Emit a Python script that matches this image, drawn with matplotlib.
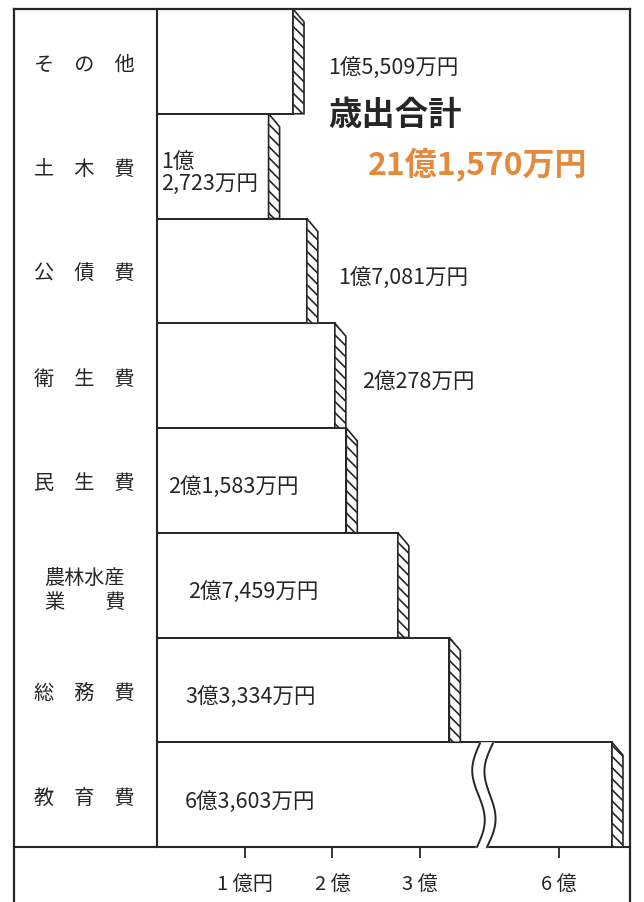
import matplotlib
matplotlib.use("Agg")
import numpy as np
import matplotlib.pyplot as plt
from matplotlib.patches import Polygon
from matplotlib.lines import Line2D

plt.rcParams['font.family'] = ['Noto Sans CJK JP', 'DejaVu Sans']
plt.rcParams['hatch.linewidth'] = 1.2

# 歳出 (単位: 万円)
categories = ['そ　の　他', '土　木　費', '公　債　費', '衛　生　費',
              '民　生　費', '農林水産\n業　　費', '総　務　費', '教　育　費']
values = [15509, 12723, 17081, 20278, 21583, 27459, 33334, 63603]
left_ticks = [1, 2, 3]
left_ticklabels = ['1 億円', '2 億', '3 億']
right_ticks = [6]
right_ticklabels = ['6 億']

# label placement: 'out' after the bar, 'in' from the left edge (px offsets)
label_side = ['out', 'in', 'out', 'out', 'in', 'in', 'in', 'in']
label_dx = [24, 4, 20, 16, 11, 31, 28, 28]

W, H = 644, 903
INK = '#262626'
ORANGE = '#e58a3c'


def fx(x):
    return x / W


def fy(y):
    return 1 - y / H


def fmt(v, two_lines=False):
    oku, man = divmod(v, 10000)
    sep = '\n' if two_lines else ''
    return f'{oku}億{sep}{man:,}万円'


fig = plt.figure(figsize=(W / 100, H / 100), dpi=100)
fig.patch.set_facecolor('white')

top, base = 10, 848
xl0, xbrk, xr1 = 157, 484, 630
ppu_left = 87.7
# right segment scale (hand drawn, stretched)
ppu_right = 147.0
right_lo = 6 - (559 - xbrk) / ppu_right

axL = fig.add_axes([fx(xl0), fy(base), fx(xbrk - xl0), (base - top) / H])
axR = fig.add_axes([fx(xbrk), fy(base), fx(xr1 - xbrk), (base - top) / H])
axL.set_xlim(0, (xbrk - xl0) / ppu_left)
axR.set_xlim(right_lo, right_lo + (xr1 - xbrk) / ppu_right)

vals = [v / 10000 for v in values]
ypos = list(range(len(values)))
row_px = (base - top) / len(values)

for ax, ppu in ((axL, ppu_left), (axR, ppu_right)):
    ax.set_ylim(len(values) - 0.5, -0.5)
    ax.barh(ypos, vals, height=1.0, color='white', edgecolor=INK, lw=1.4, zorder=2)
    w = 11 / ppu
    s = 13 / row_px
    for i, v in enumerate(vals):
        side = Polygon([(v, i - 0.5), (v + w, i - 0.5 + s), (v + w, i + 0.5), (v, i + 0.5)],
                       closed=True, facecolor='white', edgecolor=INK, lw=1.2,
                       hatch='\\\\\\', zorder=3)
        ax.add_patch(side)
    for sp in ('top', 'right'):
        ax.spines[sp].set_visible(False)
    ax.spines['bottom'].set_linewidth(1.5)
    ax.spines['bottom'].set_color(INK)
    ax.tick_params(axis='x', direction='out', length=8, width=1.3, color=INK,
                   labelsize=14.5, labelcolor=INK, pad=11)
    ax.patch.set_alpha(0)

axL.spines['left'].set_linewidth(1.5)
axL.spines['left'].set_color(INK)
axR.spines['left'].set_visible(False)

axL.set_xticks(left_ticks, left_ticklabels)
axR.set_xticks(right_ticks, right_ticklabels)
axR.set_yticks([])

axL.set_yticks(ypos, categories)
axL.tick_params(axis='y', length=0, pad=52, labelsize=14.5, labelcolor=INK)
for lab in axL.get_yticklabels():
    lab.set_ha('center')
    lab.set_multialignment('center')

# value labels
for i, v in enumerate(values):
    text = fmt(v, two_lines=(label_side[i] == 'in' and v < 15000))
    if label_side[i] == 'out':
        x0 = vals[i] + 11 / ppu_left
    else:
        x0 = 0
    axL.annotate(text, (x0, i), xytext=(label_dx[i] * 0.72, -6 * 0.72),
                 textcoords='offset points', ha='left', va='center',
                 fontsize=15.5, color=INK, linespacing=0.95, zorder=5,
                 annotation_clip=False)

# 歳出合計
fig.text(fx(328), fy(115), '歳出合計', fontsize=24, fontweight='bold',
         color=INK, ha='left', va='center')
fig.text(fx(368), fy(165), fmt(sum(values)), fontsize=23, fontweight='bold',
         color=ORANGE, ha='left', va='center')

# wavy break on the 教育費 bar
yb0 = top + row_px * (len(values) - 1)
t = np.linspace(0, 1, 40)
cy = yb0 + 1 + t * (base - yb0 - 1)
cx = 480 - 7 * np.sin(2 * np.pi * t) - 3 * t
cx2 = cx + 13 - 3 * t
gap = Polygon(np.column_stack([fx(np.r_[cx, cx2[::-1]]), fy(np.r_[cy, cy[::-1]])]),
              closed=True, transform=fig.transFigure, facecolor='white',
              edgecolor='white', lw=1.5, zorder=10)
fig.add_artist(gap)
for c in (cx, cx2):
    fig.add_artist(Line2D(fx(c), fy(cy), color=INK, lw=1.4, zorder=11))

# outer frame
frame_kw = dict(color=INK, lw=1.6, zorder=12)
fig.add_artist(Line2D([fx(14), fx(630)], [fy(10), fy(10)], **frame_kw))
fig.add_artist(Line2D([fx(14), fx(14)], [fy(10), fy(903)], **frame_kw))
fig.add_artist(Line2D([fx(630), fx(630)], [fy(10), fy(903)], **frame_kw))
fig.add_artist(Line2D([fx(14), fx(157)], [fy(base), fy(base)], color=INK, lw=1.5))

fig.savefig('out.png', dpi=100, facecolor='white')
